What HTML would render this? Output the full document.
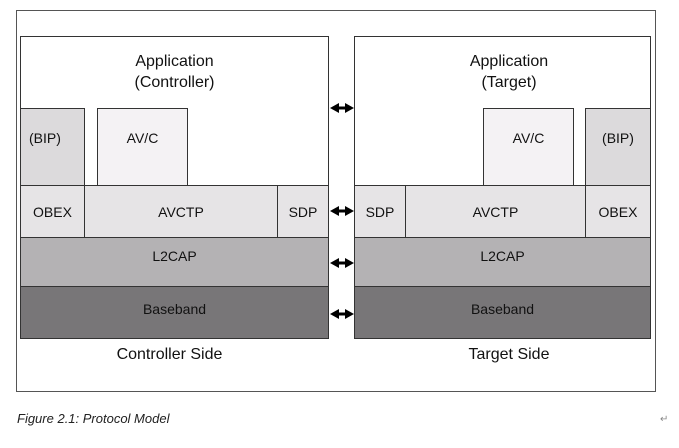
<!DOCTYPE html><html><head><style>
body{margin:0;width:679px;height:448px;background:#fff;position:relative;font-family:"Liberation Sans",sans-serif;overflow:hidden}
.b{position:absolute;box-sizing:border-box;border:1px solid #333;display:flex;align-items:center;justify-content:center;font-size:14px;color:#111}
.t{position:absolute;font-size:16px;text-align:center;color:#111}
</style></head><body>
<div style="position:absolute;left:16px;top:10px;width:640px;height:382px;border:1px solid #555;box-sizing:border-box"></div>
<div class="b" style="left:20px;top:36px;width:309px;height:150px;background:#fff"></div>
<div class="t" style="left:20px;top:51px;width:309px;line-height:21px">Application<br>(Controller)</div>
<div class="b" style="left:20px;top:108px;width:65px;height:78px;background:#dcdadc;align-items:flex-start;justify-content:flex-start;padding:21px 0 0 8px">(BIP)</div>
<div class="b" style="left:97px;top:108px;width:91px;height:78px;background:#f4f2f4;align-items:flex-start;padding-top:21px">AV/C</div>
<div class="b" style="left:20px;top:185px;width:65px;height:53px;background:#e6e4e6">OBEX</div>
<div class="b" style="left:84px;top:185px;width:194px;height:53px;background:#e6e4e6">AVCTP</div>
<div class="b" style="left:277px;top:185px;width:52px;height:53px;background:#e6e4e6">SDP</div>
<div class="b" style="left:20px;top:237px;width:309px;height:50px;background:#b4b2b4;align-items:flex-start;padding-top:10px">L2CAP</div>
<div class="b" style="left:20px;top:286px;width:309px;height:53px;background:#787678;align-items:flex-start;padding-top:14px">Baseband</div>
<div class="t" style="left:20px;top:346px;width:299px">Controller Side</div>
<div class="b" style="left:354px;top:36px;width:297px;height:150px;background:#fff"></div>
<div class="t" style="left:354px;top:51px;width:310px;line-height:21px">Application<br>(Target)</div>
<div class="b" style="left:483px;top:108px;width:91px;height:78px;background:#f4f2f4;align-items:flex-start;padding-top:21px">AV/C</div>
<div class="b" style="left:585px;top:108px;width:66px;height:78px;background:#dcdadc;align-items:flex-start;padding-top:21px">(BIP)</div>
<div class="b" style="left:354px;top:185px;width:52px;height:53px;background:#e6e4e6">SDP</div>
<div class="b" style="left:405px;top:185px;width:181px;height:53px;background:#e6e4e6">AVCTP</div>
<div class="b" style="left:585px;top:185px;width:66px;height:53px;background:#e6e4e6">OBEX</div>
<div class="b" style="left:354px;top:237px;width:297px;height:50px;background:#b4b2b4;align-items:flex-start;padding-top:10px">L2CAP</div>
<div class="b" style="left:354px;top:286px;width:297px;height:53px;background:#787678;align-items:flex-start;padding-top:14px">Baseband</div>
<div class="t" style="left:354px;top:346px;width:310px">Target Side</div>
<svg style="position:absolute;left:0;top:0" width="679" height="448">
<g fill="#000" stroke="#000" stroke-width="3">
<line x1="334" y1="108" x2="350" y2="108"/><polygon points="330,108 339,103 339,113" stroke="none"/><polygon points="354,108 345,103 345,113" stroke="none"/>
<line x1="334" y1="211" x2="350" y2="211"/><polygon points="330,211 339,206 339,216" stroke="none"/><polygon points="354,211 345,206 345,216" stroke="none"/>
<line x1="334" y1="263" x2="350" y2="263"/><polygon points="330,263 339,258 339,268" stroke="none"/><polygon points="354,263 345,258 345,268" stroke="none"/>
<line x1="334" y1="314" x2="350" y2="314"/><polygon points="330,314 339,309 339,319" stroke="none"/><polygon points="354,314 345,309 345,319" stroke="none"/>
</g></svg>
<div style="position:absolute;left:17px;top:411px;font-size:13px;font-style:italic;color:#222">Figure 2.1: Protocol Model</div>
<div style="position:absolute;left:660px;top:414px;font-size:10px;color:#888">↵</div>
</body></html>
